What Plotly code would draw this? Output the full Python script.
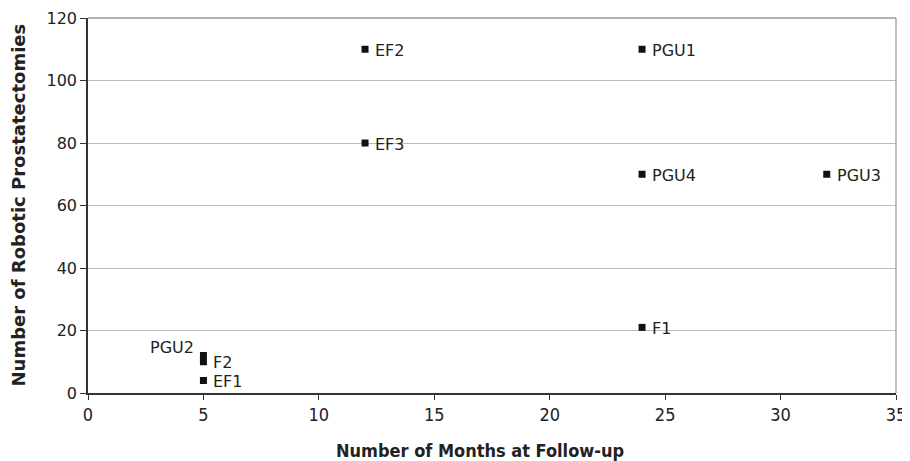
import plotly.graph_objects as go

labels = ["EF1", "F2", "PGU2", "EF2", "EF3", "PGU1", "PGU4", "F1", "PGU3"]
months = [5, 5, 5, 12, 12, 24, 24, 24, 32]
counts = [4, 10, 12, 110, 80, 110, 70, 21, 70]
label_side = ["right", "right", "left", "right", "right", "right", "right", "right", "right"]

x_ticks = [0, 5, 10, 15, 20, 25, 30, 35]
y_ticks = [0, 20, 40, 60, 80, 100, 120]

# page body has an 8px margin; figure is sized so the plot area lands where the reference has it
W, H = 902, 453
fig = go.Figure()
fig.add_trace(go.Scatter(
    x=months, y=counts, mode="markers",
    marker=dict(symbol="square", size=7, color="#111"),
    showlegend=False, cliponaxis=False,
))

annotations = []
for lab, mx, cy, side in zip(labels, months, counts, label_side):
    if side == "right":
        annotations.append(dict(x=mx, y=cy, xref="x", yref="y", text=lab, showarrow=False,
                                xanchor="left", yanchor="middle", xshift=8, yshift=-1,
                                font=dict(family="DejaVu Sans", size=16, color="#222")))
    else:
        annotations.append(dict(x=mx, y=cy, xref="x", yref="y", text=lab, showarrow=False,
                                xanchor="right", yanchor="middle", xshift=-7, yshift=8,
                                font=dict(family="DejaVu Sans", size=16, color="#222")))

annotations.append(dict(text="<b>Number of Months at Follow-up</b>", xref="paper", yref="paper",
                        x=0.485, y=0, xanchor="center", yanchor="middle", yshift=-57,
                        showarrow=False,
                        font=dict(family="DejaVu Sans Condensed", size=18, color="#222")))
annotations.append(dict(text="<b>Number of Robotic Prostatectomies</b>", xref="paper", yref="paper",
                        x=0, y=0.5, xanchor="center", yanchor="middle", xshift=-70,
                        textangle=-90, showarrow=False,
                        font=dict(family="DejaVu Sans", size=18, color="#222")))

fig.update_layout(
    width=W, height=H,
    margin=dict(l=80, r=14, t=10, b=68),
    plot_bgcolor="white", paper_bgcolor="white",
    font=dict(family="DejaVu Sans", size=16, color="#222"),
    annotations=annotations,
    xaxis=dict(range=[0, 35], tickvals=x_ticks, showgrid=False, zeroline=False,
               showline=True, linecolor="#333", linewidth=1.5, ticks="outside",
               ticklen=5, tickcolor="#333", automargin=False, ticklabeloverflow="allow",
               tickfont=dict(family="DejaVu Sans Condensed", size=18)),
    yaxis=dict(range=[0, 120], tickvals=y_ticks, showgrid=True, gridcolor="#bbb",
               zeroline=False, showline=True, linecolor="#333", linewidth=1.5,
               ticks="outside", ticklen=6, tickcolor="#333", automargin=False,
               tickfont=dict(family="DejaVu Sans", size=16)),
)
fig.add_shape(type="line", xref="paper", yref="paper", x0=1, x1=1, y0=0, y1=1,
              line=dict(color="#aaa", width=1.5))
fig.add_shape(type="line", xref="paper", yref="paper", x0=0, x1=1, y0=1, y1=1,
              line=dict(color="#999", width=1.5))

fig.write_html("out.html")
